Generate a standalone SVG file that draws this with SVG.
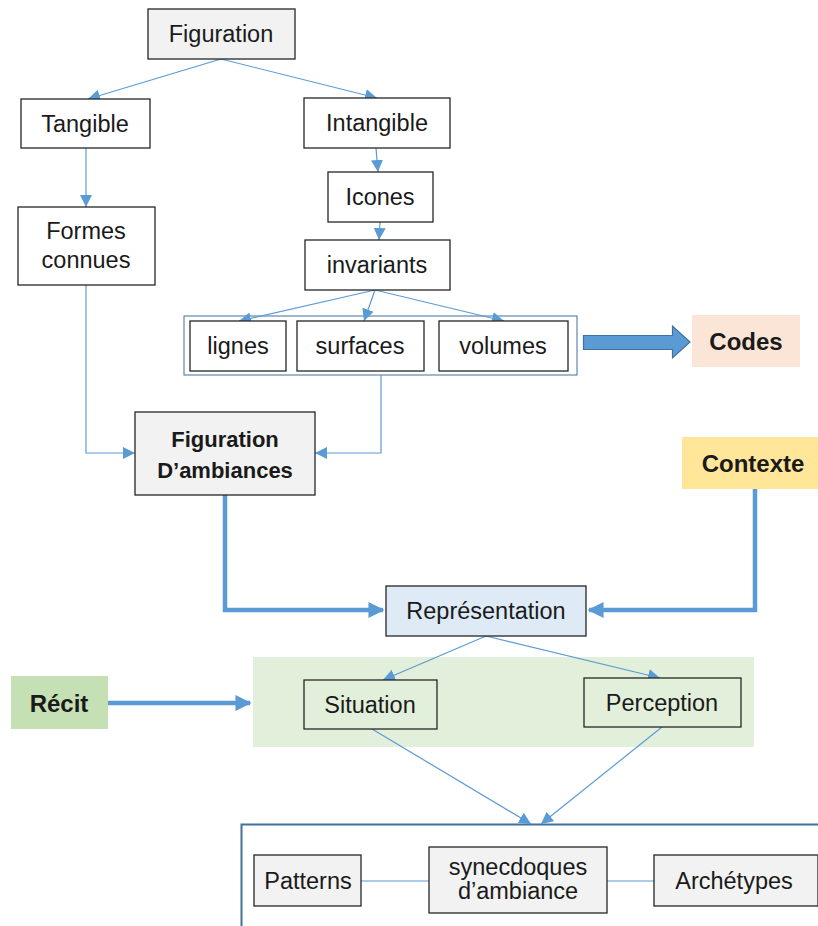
<svg xmlns="http://www.w3.org/2000/svg" width="818" height="926" viewBox="0 0 818 926">
<defs>
<marker id="ah" viewBox="0 0 10 10" refX="10" refY="5" markerWidth="12" markerHeight="13" markerUnits="userSpaceOnUse" orient="auto"><path d="M0,0 L10,5 L0,10 z" fill="#5b9bd5"/></marker>
<marker id="ahb" viewBox="0 0 10 10" refX="9" refY="5" markerWidth="3.6" markerHeight="4.4" orient="auto"><path d="M0,0 L10,5 L0,10 z" fill="#5b9bd5"/></marker>
<style>
.n{stroke:#262626;stroke-width:1.3}
.w{fill:#ffffff}
.g{fill:#f2f2f2}
.t{font-family:"Liberation Sans",Arial,sans-serif;font-size:23.5px;fill:#1a1a1a;text-anchor:middle;dominant-baseline:central}
.b{font-weight:bold;font-size:22px}
.bl{font-weight:bold;font-size:24px}
.c{fill:none;stroke:#5b9bd5;stroke-width:1.2}
.k{fill:none;stroke:#5b9bd5;stroke-width:4.5}
</style>
</defs>
<rect width="818" height="926" fill="#ffffff"/>
<g id="ambiance-bg"><rect x="253" y="657" width="501" height="90" fill="#e2efda"/></g>
<g id="container-top"><rect x="184" y="316" width="393" height="59" fill="none" stroke="#41719c" stroke-width="1"/></g>
<g id="container-bottom"><rect x="241.5" y="824.5" width="590" height="120" fill="none" stroke="#41719c" stroke-width="2"/></g>
<g id="connectors">
<path class="c" d="M221,59 L88,99" marker-end="url(#ah)"/>
<path class="c" d="M221,59 L377,98" marker-end="url(#ah)"/>
<path class="c" d="M86,148 L86,207" marker-end="url(#ah)"/>
<path class="c" d="M376,148 L378,172" marker-end="url(#ah)"/>
<path class="c" d="M380,222 L379,240" marker-end="url(#ah)"/>
<path class="c" d="M375,290 L239,321" marker-end="url(#ah)"/>
<path class="c" d="M375,290 L364,321" marker-end="url(#ah)"/>
<path class="c" d="M375,290 L504,321" marker-end="url(#ah)"/>
<path class="c" d="M86,285 L86,453 L135,453" marker-end="url(#ah)"/>
<path class="c" d="M381,375 L381,453 L315,453" marker-end="url(#ah)"/>
<path class="k" d="M225,495 L225,610 L383,610" marker-end="url(#ahb)"/>
<path class="k" d="M755,489 L755,610 L589,610" marker-end="url(#ahb)"/>
<path class="c" d="M486,636 L383,680" marker-end="url(#ah)"/>
<path class="c" d="M486,636 L660,678" marker-end="url(#ah)"/>
<path class="k" d="M108,703 L250,703" marker-end="url(#ahb)"/>
<path class="c" d="M372,729 L531,824" marker-end="url(#ah)"/>
<path class="c" d="M662,727 L541,824" marker-end="url(#ah)"/>
<path class="c" d="M361,881 L429,881 M607,881 L654,881"/>
<path d="M583.5,335.5 L672.5,335.5 L672.5,326 L690,342 L672.5,358 L672.5,349.5 L583.5,349.5 z" fill="#5b9bd5" stroke="#41719c" stroke-width="1.2"/>
</g>
<g id="figuration"><rect class="n g" x="148" y="9" width="147" height="50"/><text class="t" x="221" y="34">Figuration</text></g>
<g id="tangible"><rect class="n w" x="21" y="99" width="129" height="49"/><text class="t" x="85" y="124">Tangible</text></g>
<g id="intangible"><rect class="n w" x="304" y="98" width="146" height="50"/><text class="t" x="377" y="123">Intangible</text></g>
<g id="icones"><rect class="n w" x="328" y="172" width="105" height="50"/><text class="t" x="380" y="197">Icones</text></g>
<g id="invariants"><rect class="n w" x="305" y="240" width="145" height="50"/><text class="t" x="377" y="265">invariants</text></g>
<g id="formes"><rect class="n w" x="18" y="207" width="137" height="78"/><text class="t" x="86" y="231">Formes</text><text class="t" x="86" y="260">connues</text></g>
<g id="lignes"><rect class="n w" x="190" y="321" width="96" height="50"/><text class="t" x="238" y="346">lignes</text></g>
<g id="surfaces"><rect class="n w" x="297" y="321" width="127" height="50"/><text class="t" x="360" y="346">surfaces</text></g>
<g id="volumes"><rect class="n w" x="439" y="321" width="129" height="50"/><text class="t" x="503" y="346">volumes</text></g>
<g id="codes"><rect x="692" y="315" width="108" height="52" fill="#fbe5d6"/><text class="t bl" x="746" y="341">Codes</text></g>
<g id="figuration-ambiances"><rect class="n g" x="135" y="412" width="180" height="83"/><text class="t b" x="225" y="439">Figuration</text><text class="t b" x="225" y="470">D’ambiances</text></g>
<g id="contexte"><rect x="682" y="437" width="136" height="52" fill="#ffe699"/><text class="t bl" x="753" y="463">Contexte</text></g>
<g id="representation"><rect class="n" fill="#deebf7" x="386" y="586" width="200" height="50"/><text class="t" x="486" y="611">Représentation</text></g>
<g id="recit"><rect x="11" y="676" width="97" height="53" fill="#c5e0b4"/><text class="t bl" x="59" y="703">Récit</text></g>
<g id="situation"><rect class="n" fill="#e2efda" x="304" y="680" width="133" height="49"/><text class="t" x="370" y="705">Situation</text></g>
<g id="perception"><rect class="n" fill="#e2efda" x="584" y="678" width="157" height="49"/><text class="t" x="662" y="703">Perception</text></g>
<g id="patterns"><rect class="n g" x="254" y="855" width="107" height="51"/><text class="t" x="308" y="881">Patterns</text></g>
<g id="synecdoques"><rect class="n g" x="429" y="847" width="178" height="66"/><text class="t" x="518" y="867">synecdoques</text><text class="t" x="518" y="891">d’ambiance</text></g>
<g id="archetypes"><rect class="n g" x="654" y="855" width="164" height="51"/><text class="t" x="734" y="881">Archétypes</text></g>
</svg>
